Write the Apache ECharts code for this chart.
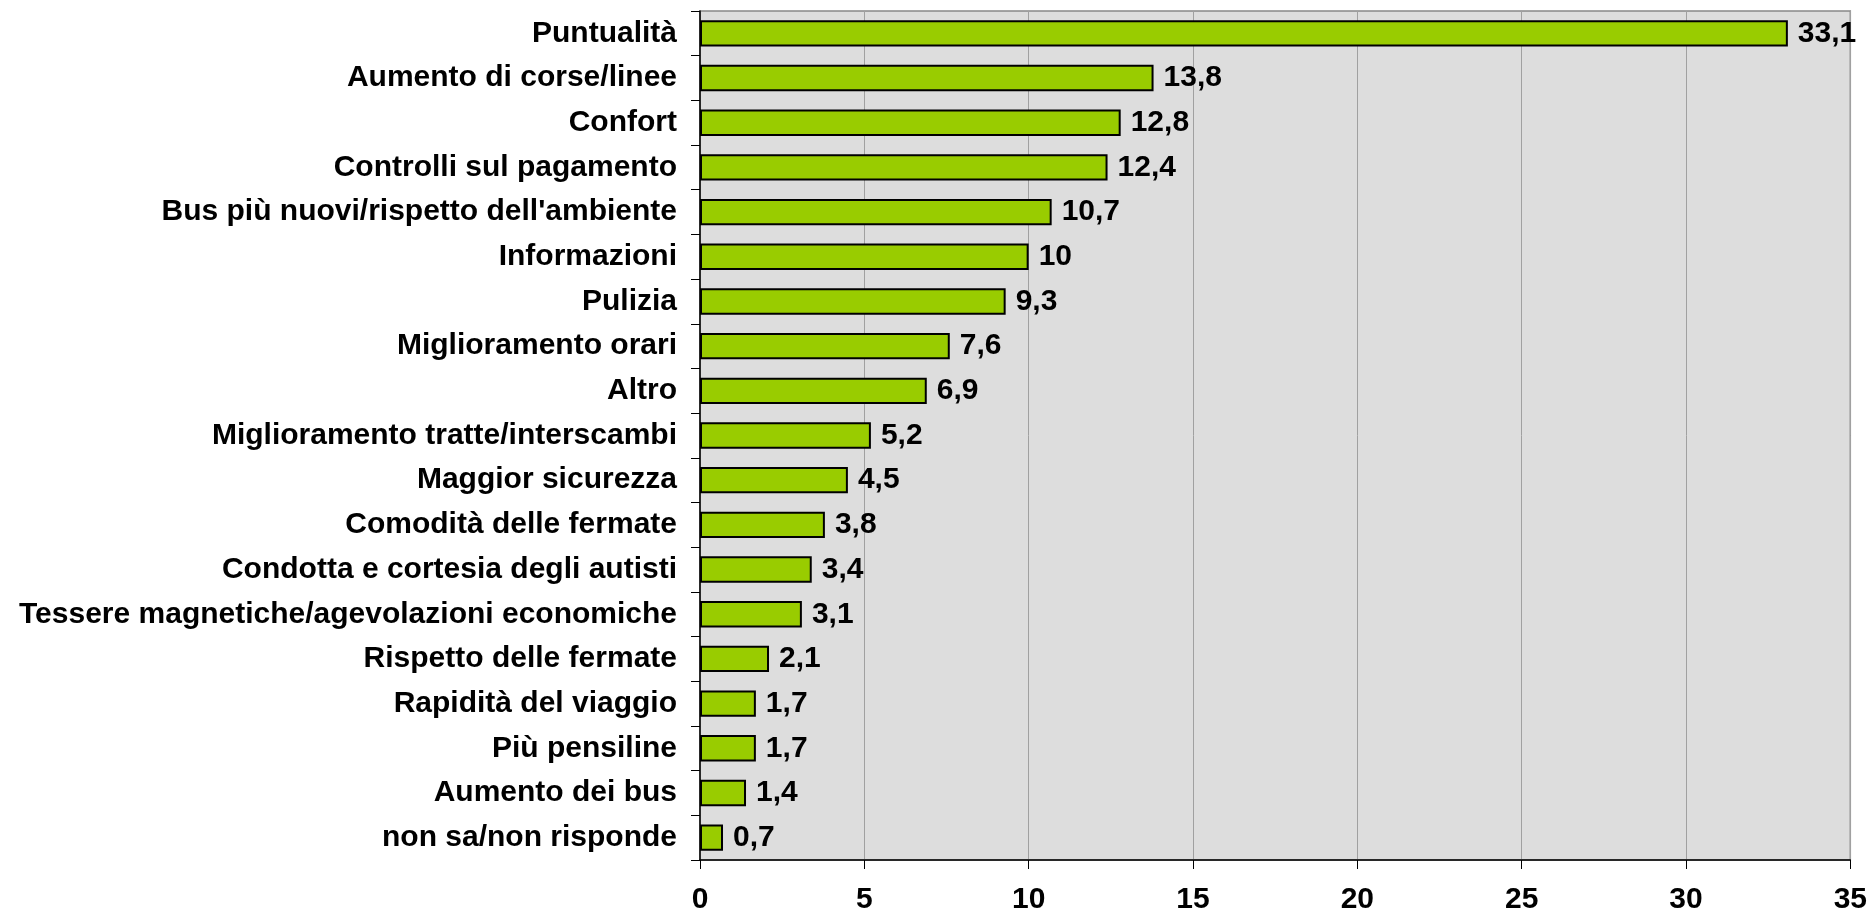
<!DOCTYPE html>
<html>
<head>
<meta charset="utf-8">
<script src="https://cdn.jsdelivr.net/npm/echarts@6/dist/echarts.min.js"></script>
<style>
html, body { margin: 0; padding: 0; background: #fff; }
#chart { width: 1870px; height: 915px; }
</style>
</head>
<body>
<div id="chart"></div>
<script>
// categorie e percentuali
var categorie = ['Puntualità', 'Aumento di corse/linee', 'Confort', 'Controlli sul pagamento',
  "Bus più nuovi/rispetto dell'ambiente", 'Informazioni', 'Pulizia', 'Miglioramento orari',
  'Altro', 'Miglioramento tratte/interscambi', 'Maggior sicurezza', 'Comodità delle fermate',
  'Condotta e cortesia degli autisti', 'Tessere magnetiche/agevolazioni economiche',
  'Rispetto delle fermate', 'Rapidità del viaggio', 'Più pensiline', 'Aumento dei bus',
  'non sa/non risponde'];
var valori = [33.1, 13.8, 12.8, 12.4, 10.7, 10, 9.3, 7.6, 6.9, 5.2, 4.5, 3.8, 3.4, 3.1, 2.1, 1.7, 1.7, 1.4, 0.7];
var xMin = 0, xMax = 35, xStep = 5;

var font = '"Liberation Sans", Arial, Helvetica, sans-serif';
var chart = echarts.init(document.getElementById('chart'));
var option = {
  animation: false,
  grid: {
    left: 700, right: 19, top: 11, bottom: 54,
    show: true,
    backgroundColor: '#dddddd',
    borderColor: '#888888',
    borderWidth: 1.5
  },
  xAxis: {
    type: 'value',
    min: xMin, max: xMax, interval: xStep,
    axisLine: { show: true, lineStyle: { color: '#000', width: 1.5 } },
    axisTick: { show: true, length: 9, lineStyle: { color: '#000' } },
    splitLine: { show: true, lineStyle: { color: '#a0a0a0', width: 1 } },
    axisLabel: {
      margin: 25,
      color: '#000',
      fontFamily: font,
      fontWeight: 'bold',
      fontSize: 30
    }
  },
  yAxis: {
    type: 'category',
    data: categorie,
    inverse: true,
    axisLine: { show: true, lineStyle: { color: '#000', width: 1.5 } },
    axisTick: { show: true, length: 9, lineStyle: { color: '#000' } },
    axisLabel: {
      margin: 23,
      color: '#000',
      fontFamily: font,
      fontWeight: 'bold',
      fontSize: 30,
      verticalAlign: 'middle',
      padding: [10, 0, 0, 0]
    }
  },
  series: [{
    type: 'bar',
    data: valori,
    barWidth: '59%',
    itemStyle: { color: '#99cc00', borderColor: '#000', borderWidth: 2 },
    label: {
      show: true,
      position: 'right',
      distance: 10,
      color: '#000',
      fontFamily: font,
      fontWeight: 'bold',
      fontSize: 30,
      padding: [8, 0, 0, 0],
      formatter: function (p) { return String(p.value).replace('.', ','); }
    }
  }]
};
chart.setOption(option);
</script>
</body>
</html>
